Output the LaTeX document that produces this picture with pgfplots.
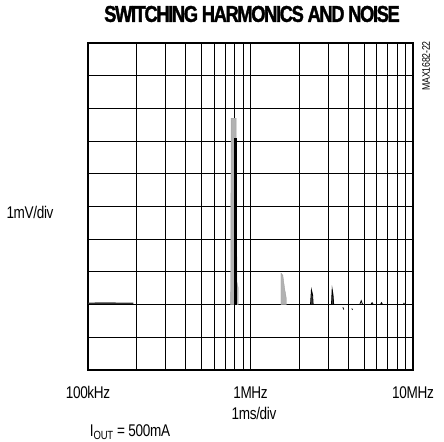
\documentclass[border=0pt]{standalone}
\usepackage{fontspec}
\setmainfont{Liberation Sans}[FakeStretch=0.8,LetterSpace=-2]
\newfontfamily\titlefont{Liberation Sans Bold}[FakeStretch=0.8,LetterSpace=-6,FakeBold=1.5]
\usepackage{pgfplots}
\pgfplotsset{compat=1.18}
\begin{document}
\begin{tikzpicture}
\path[use as bounding box] (-88bp,-72bp) rectangle (356bp,370bp);
\begin{axis}[
  at={(0,0)},anchor=south west,
  scale only axis,width=325bp,height=327bp,
  xmode=log,xmin=1e5,xmax=1e7,ymin=0,ymax=10,
  xtick={1e5,1e6,1e7},xticklabels={100kHz,1MHz,10MHz},
  minor xtick={2e5,3e5,4e5,5e5,6e5,7e5,8e5,9e5,2e6,3e6,4e6,5e6,6e6,7e6,8e6,9e6},
  ytick={0,1,...,10},yticklabels={},
  tick style={draw=none},
  xmajorgrids,xminorgrids,ymajorgrids,
  grid style={black,line width=1pt},
  minor grid style={black,line width=1pt},
  axis line style={line width=2.5pt},
  xticklabel style={font=\fontsize{17}{17}\selectfont,yshift=-13bp},
  clip=true]
% baseline noise
\addplot[gray!40!black,line width=2pt] coordinates {(1e5,2.03)(1.3e5,2.04)(1.6e5,2.03)(1.9e5,2.03)};
\addplot[black,line width=1.8pt] coordinates {(1e5,2.0)(7.7e5,2.0)(8.3e5,2.0)(1.5e6,2.0)(2.5e6,2.0)(1e7,2.0)};
% fundamental
\addplot[fill=gray!60,draw=gray!75] coordinates {(7.55e5,2)(7.6e5,7.7)(8.15e5,7.7)(8.25e5,2.7)(8.4e5,2.5)(8.4e5,2)} -- cycle;
\addplot[black,line width=2.5pt] coordinates {(8.06e5,2)(8.06e5,7.1)};
% harmonics
\addplot[fill=gray!60,draw=gray!75] coordinates {(1.54e6,2)(1.54e6,2.96)(1.58e6,2.9)(1.62e6,2.5)(1.66e6,2.2)(1.66e6,2)} -- cycle;
\addplot[fill=gray!50!black,draw=black,line width=0.8pt] coordinates {(2.34e6,2)(2.37e6,2.45)(2.41e6,2.3)(2.43e6,2)} -- cycle;
\addplot[fill=gray!50!black,draw=black,line width=0.8pt] coordinates {(3.15e6,2)(3.18e6,2.47)(3.22e6,2.3)(3.25e6,2)} -- cycle;
\addplot[black,line width=0.8pt] coordinates {(4.7e6,2)(4.8e6,2.12)(4.9e6,2)};
\addplot[black,line width=0.8pt] coordinates {(5.5e6,2)(5.6e6,2.06)(5.7e6,2)};
\addplot[black,line width=0.8pt] coordinates {(6.3e6,2)(6.4e6,2.06)(6.5e6,2)};
\addplot[black,line width=0.8pt] coordinates {(8.7e6,2)(8.8e6,2.04)(8.9e6,2)};
\addplot[black,line width=0.8pt] coordinates {(3.7e6,1.92)(3.75e6,1.85)};
\addplot[black,line width=0.8pt] coordinates {(4.2e6,1.88)(4.25e6,1.84)};
\end{axis}
\node[font=\titlefont\fontsize{23}{23}\selectfont] at (164bp,356bp) {SWITCHING HARMONICS AND NOISE};
\node[font=\fontsize{17}{17}\selectfont] at (-58bp,158bp) {1mV/div};
\node[font=\fontsize{17}{17}\selectfont] at (166bp,-43bp) {1ms/div};
\node[font=\fontsize{17}{17}\selectfont] at (42bp,-62bp) {I\textsubscript{OUT} = 500mA};
\node[font=\fontsize{11}{11}\selectfont,rotate=90] at (338bp,304bp) {MAX1682-22};
\end{tikzpicture}
\end{document}
